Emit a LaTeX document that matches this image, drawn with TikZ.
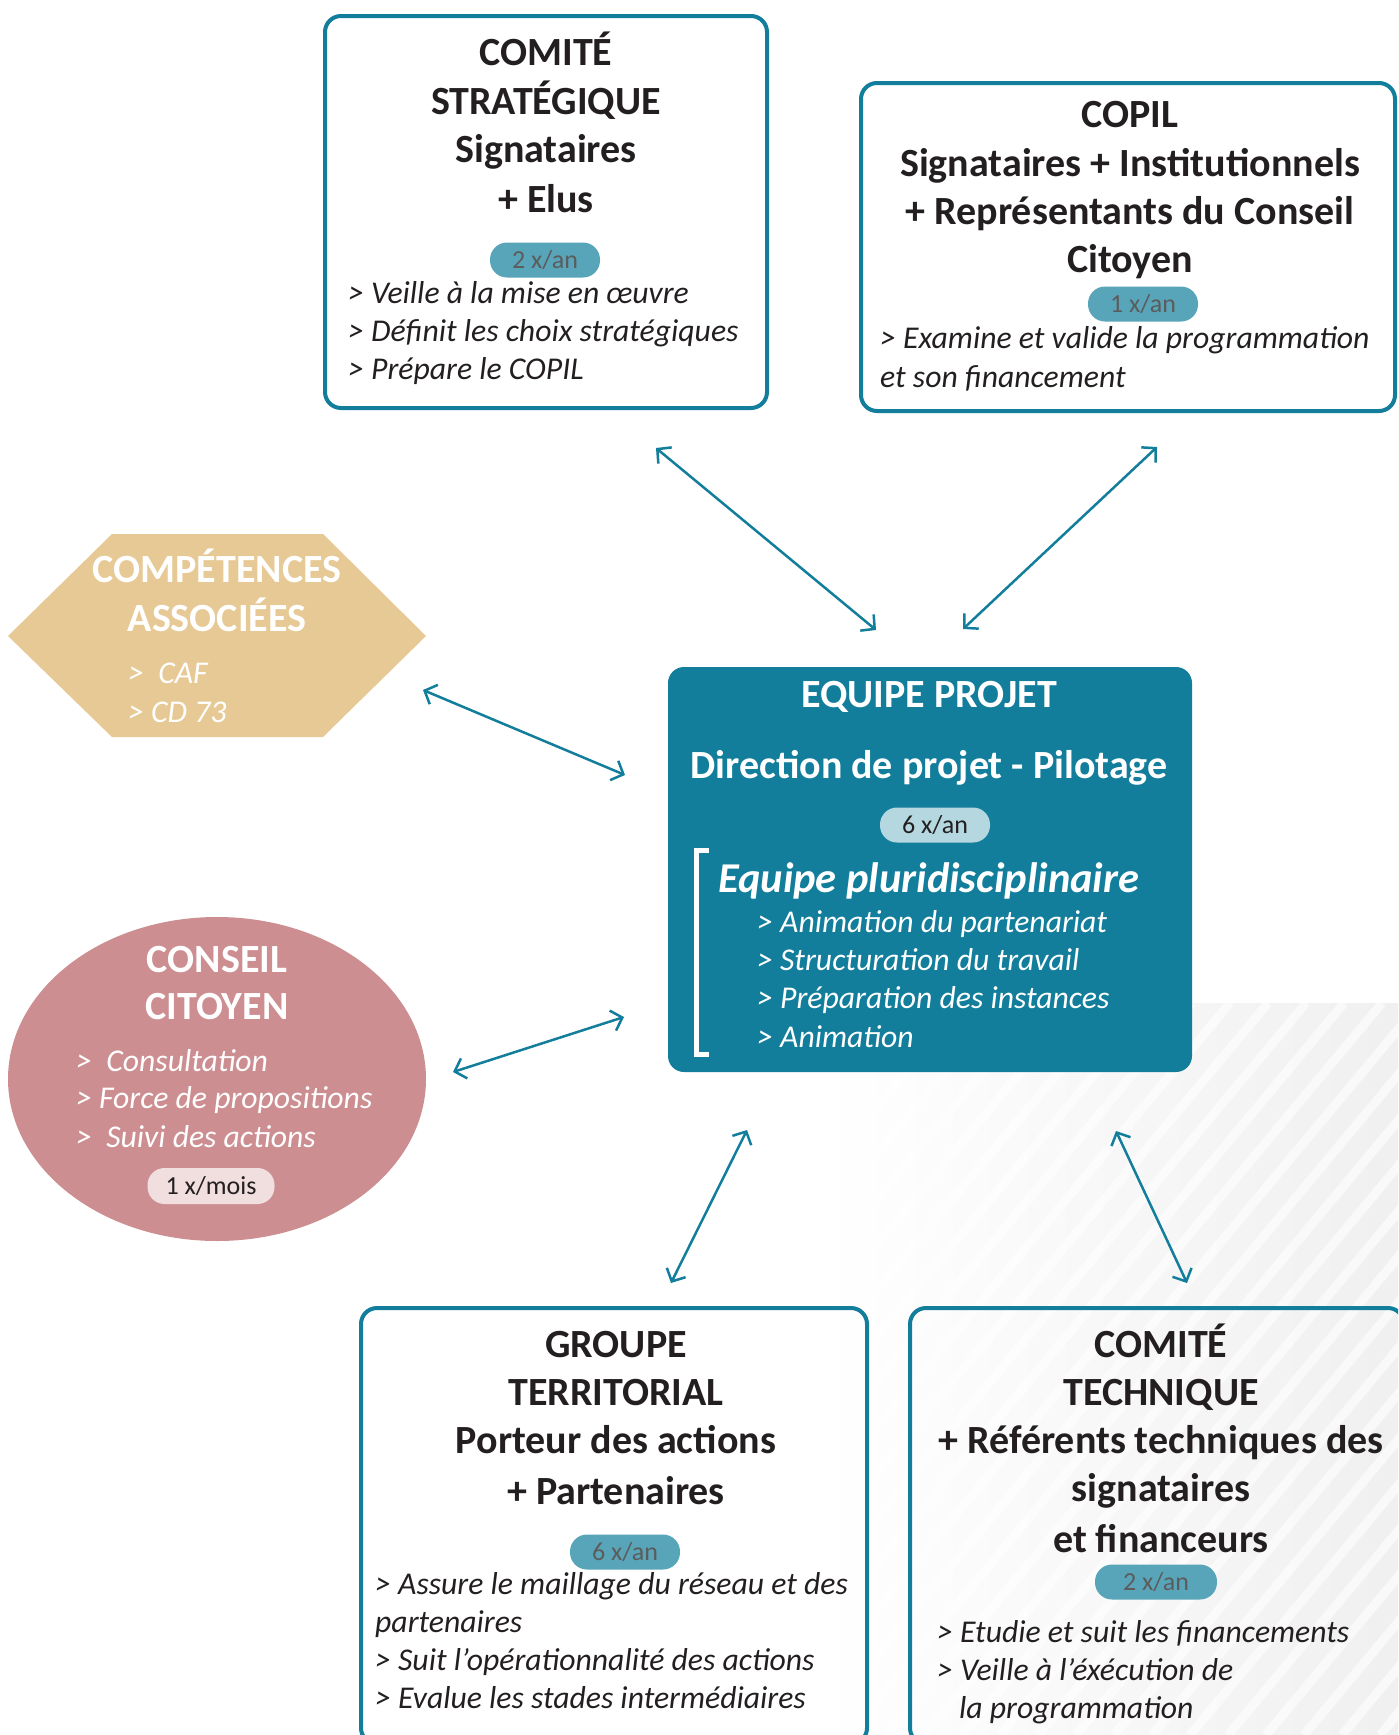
\documentclass[tikz,border=0pt]{standalone}
\usepackage{fontspec}
\setmainfont{Carlito}
\usetikzlibrary{arrows.meta,shapes.geometric}
\definecolor{tealc}{HTML}{127E9B}
\definecolor{pillA}{HTML}{58A5BA}
\definecolor{pillAtxt}{HTML}{5C5C5C}
\definecolor{pillB}{HTML}{B5D8E0}
\definecolor{pillC}{HTML}{F1DEDF}
\definecolor{ink}{HTML}{231F20}
\definecolor{hexc}{HTML}{E6C994}
\definecolor{ellc}{HTML}{CD8E91}
\tikzset{
  boxc/.style={draw=tealc, line width=4pt, rounded corners=16pt, inner sep=0pt},
  hd/.style={font=\fontsize{40pt}{46pt}\selectfont\bfseries, text=ink, anchor=base, inner sep=0pt},
  hdw/.style={hd, text=white},
  itm/.style={font=\fontsize{31.7pt}{38pt}\selectfont\itshape, text=ink, anchor=base west, inner sep=0pt},
  itmw/.style={itm, text=white},
  pill/.style={rounded corners=17pt, minimum width=110pt, minimum height=35pt, inner sep=0pt,
     text height=16.4pt, text depth=0pt, font=\fontsize{26pt}{30pt}\selectfont},
  pillt/.style={pill, fill=pillA, text=pillAtxt},
  arr/.style={draw=tealc, line width=2.5pt, {Straight Barb[length=10pt,width=21pt]}-{Straight Barb[length=10pt,width=21pt]}}
}
\begin{document}
\begin{tikzpicture}[x=1pt,y=-1pt]
\useasboundingbox (0,0) rectangle (1398,1735);
\clip (0,0) rectangle (1398,1735);
% background stripes
\begin{scope}
  \clip (820,1003) rectangle (1398,1735);
  \shade[left color=white, right color=black!6] (820,1003) rectangle (1398,1735);
  \foreach \k in {-30,...,14} {
    \draw[white, line width=9pt, opacity=0.6] (1000+\k*38,1735) -- ++(610,-732);
  }
\end{scope}

% COMITE STRATEGIQUE
\node[boxc, minimum width=442pt, minimum height=392pt] (cs) at (546,212) {};
\node[hd] (cs1) at (546,65) {COMITÉ};
\node[hd] (cs2) at (546,114) {STRATÉGIQUE};
\node[hd] (cs3) at (546,162) {Signataires};
\node[hd] (cs4) at (546,212) {+ Elus};
\node[pillt] (csp) at (545,260) {2 x/an};
\node[itm] (csi1) at (348,303) {> Veille à la mise en œuvre};
\node[itm] (csi2) at (348,341) {> Définit les choix stratégiques};
\node[itm] (csi3) at (348,379) {> Prépare le COPIL};

% COPIL
\node[boxc, minimum width=534pt, minimum height=328pt] (cp) at (1128,247) {};
\node[hd] (cp1) at (1130,127) {COPIL};
\node[hd] (cp2) at (1130,176) {Signataires + Institutionnels};
\node[hd] (cp3) at (1130,224) {+ Représentants du Conseil};
\node[hd] (cp4) at (1130,272) {Citoyen};
\node[pillt] (cpp) at (1143,304) {1 x/an};
\node[itm] (cpi1) at (880,348) {> Examine et valide la programmation};
\node[itm] (cpi2) at (880,387) {et son financement};

% COMPETENCES ASSOCIEES
\fill[hexc] (8,636) -- (112,534) -- (323,534) -- (426,636) -- (323,737) -- (112,737) -- cycle;
\coordinate (hx) at (217,636);
\node[hdw] (hx1) at (217,582) {COMPÉTENCES};
\node[hdw] (hx2) at (217,631) {ASSOCIÉES};
\node[itmw] (hx3) at (128,683) {>\ \ CAF};
\node[itmw] (hx4) at (128,722) {> CD 73};

% CONSEIL CITOYEN
\node[ellipse, fill=ellc, minimum width=418pt, minimum height=324pt, inner sep=0pt] (cc) at (217,1079) {};
\node[hdw] (cc1) at (217,972) {CONSEIL};
\node[hdw] (cc2) at (217,1019) {CITOYEN};
\node[itmw] (cci1) at (76,1071) {>\ \ Consultation};
\node[itmw] (cci2) at (76,1108) {> Force de propositions};
\node[itmw] (cci3) at (76,1147) {>\ \ Suivi des actions};
\node[pill, fill=pillC, text=ink, minimum width=127pt, minimum height=36pt] (ccp) at (211,1186) {1 x/mois};

% EQUIPE PROJET
\node[fill=tealc, rounded corners=16pt, minimum width=524pt, minimum height=405pt, inner sep=0pt] (ep) at (930,869.5) {};
\node[hdw] (ep1) at (929,707) {EQUIPE PROJET};
\node[hdw] (ep2) at (929,778) {Direction de projet - Pilotage};
\node[pill, fill=pillB, text=ink] (epp) at (935,825) {6 x/an};
\draw[white, line width=5pt] (709,850.5) -- (696,850.5) -- (696,1054.5) -- (709,1054.5);
\node[font=\fontsize{42.5pt}{46pt}\selectfont\bfseries\itshape, text=white, anchor=base west, inner sep=0pt] (ep3) at (718,892) {Equipe pluridisciplinaire};
\node[itmw] (epi1) at (757,932) {> Animation du partenariat};
\node[itmw] (epi2) at (757,970) {> Structuration du travail};
\node[itmw] (epi3) at (757,1008) {> Préparation des instances};
\node[itmw] (epi4) at (757,1047) {> Animation};

% GROUPE TERRITORIAL
\node[boxc, minimum width=506pt, minimum height=436pt] (gt) at (614,1526) {};
\node[hd] (gt1) at (616,1357) {GROUPE};
\node[hd] (gt2) at (616,1405) {TERRITORIAL};
\node[hd] (gt3) at (616,1453) {Porteur des actions};
\node[hd] (gt4) at (616,1504) {+ Partenaires};
\node[pillt] (gtp) at (625,1552) {6 x/an};
\node[itm] (gti1) at (375,1594) {> Assure le maillage du réseau et des};
\node[itm] (gti2) at (375,1632) {partenaires};
\node[itm] (gti3) at (375,1670) {> Suit l’opérationnalité des actions};
\node[itm] (gti4) at (375,1708) {> Evalue les stades intermédiaires};

% COMITE TECHNIQUE
\node[boxc, minimum width=494pt, minimum height=436pt] (ct) at (1157,1526) {};
\node[hd] (ct1) at (1161,1357) {COMITÉ};
\node[hd] (ct2) at (1161,1405) {TECHNIQUE};
\node[hd] (ct3) at (1161,1453) {+ Référents techniques des};
\node[hd] (ct4) at (1161,1501) {signataires};
\node[hd] (ct5) at (1161,1552) {et financeurs};
\node[pillt, minimum width=122pt] (ctp) at (1156,1582) {2 x/an};
\node[itm] (cti1) at (937,1642) {> Etudie et suit les financements};
\node[itm] (cti2) at (937,1680) {> Veille à l’éxécution de};
\node[itm] (cti3) at (959,1718) {la programmation};

% arrows
\coordinate (a1s) at (656,448);  \coordinate (a1e) at (876,630);
\coordinate (a2s) at (1157,447); \coordinate (a2e) at (963,629);
\coordinate (a3s) at (423,690);  \coordinate (a3e) at (625,775);
\coordinate (a4s) at (453,1072); \coordinate (a4e) at (624,1017);
\coordinate (a5s) at (747,1130); \coordinate (a5e) at (671,1283);
\coordinate (a6s) at (1116,1131);\coordinate (a6e) at (1187,1283);
\draw[arr] (a1s) -- (a1e);
\draw[arr] (a2s) -- (a2e);
\draw[arr] (a3s) -- (a3e);
\draw[arr] (a4s) -- (a4e);
\draw[arr] (a5s) -- (a5e);
\draw[arr] (a6s) -- (a6e);
\end{tikzpicture}
\end{document}
